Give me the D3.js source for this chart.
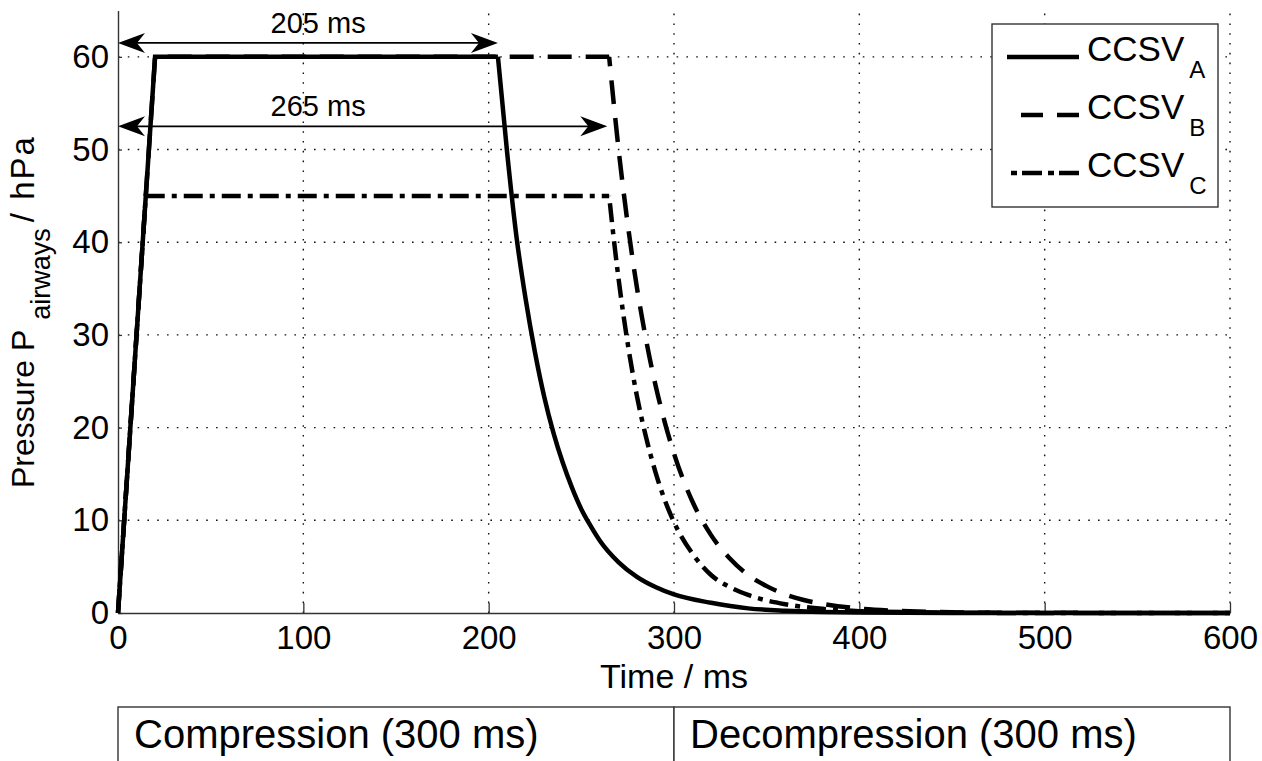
<!DOCTYPE html>
<html>
<head>
<meta charset="utf-8">
<script src="https://cdn.jsdelivr.net/npm/d3@7"></script>
<style>
body{margin:0;background:#fff;}
text{font-family:"Liberation Sans",Arial,Helvetica,sans-serif;fill:#000;}
</style>
</head>
<body>
<svg id="chart" width="1262" height="761"></svg>
<script>
// pressure curves, time in ms, pressure in hPa
// first three points = ramp + plateau, rest = release
var timeA  = [0, 20, 205, 210, 215, 220, 225, 230, 235, 240, 245, 250, 255, 260, 270, 280, 290, 300, 320, 340, 360, 380, 400, 450, 500, 600];
var pressA = [0, 60, 60, 49.6, 40.6, 33.8, 28.1, 23.3, 19.4, 16.2, 13.5, 11.2, 9.4, 7.8, 5.5, 3.9, 2.8, 2.0, 1.1, 0.5, 0.25, 0.12, 0.06, 0.01, 0, 0];
var timeB  = [0, 20, 265, 270, 275, 280, 285, 290, 295, 300, 310, 320, 330, 340, 350, 360, 370, 380, 400, 420, 450, 500, 600];
var pressB = [0, 60, 60, 50.2, 42.0, 35.1, 29.4, 24.6, 20.6, 17.2, 12.0, 8.4, 5.9, 4.1, 2.9, 2.0, 1.4, 1.0, 0.48, 0.24, 0.08, 0.02, 0];
var timeC  = [0, 15, 265, 268, 270, 275, 280, 285, 290, 295, 300, 310, 320, 330, 340, 350, 360, 380, 400, 450, 500, 600];
var pressC = [0, 45, 45, 39.5, 36.2, 29.1, 23.4, 18.9, 15.2, 12.2, 9.8, 6.4, 4.1, 2.8, 1.95, 1.35, 0.95, 0.45, 0.2, 0.04, 0, 0];

var seriesNames = ["CCSV", "CCSV", "CCSV"];
var seriesSubs  = ["A", "B", "C"];

var xTicks = [0, 100, 200, 300, 400, 500, 600];
var yTicks = [0, 10, 20, 30, 40, 50, 60];

// arrows: both start at t = 0
var arrowLabels = ["205 ms", "265 ms"];
var arrowEnds   = [205, 264];
var arrowLevels = [61.5, 52.5];

var phaseNames  = ["Compression (300 ms)", "Decompression (300 ms)"];
var phaseStarts = [0, 300];
var phaseEnds   = [300, 600];

var svg = d3.select("#chart");

var x = d3.scaleLinear().domain([0, 600]).range([118, 1230]);
var y = d3.scaleLinear().domain([0, 65]).range([613, 10.5]);

// grid
var grid = svg.append("g");
grid.selectAll(".gx").data(xTicks.slice(1)).enter().append("line")
  .attr("x1", function(d){ return x(d); }).attr("x2", function(d){ return x(d); })
  .attr("y1", y(0)).attr("y2", y(65))
  .attr("stroke", "#111").attr("stroke-width", 1.4).attr("stroke-dasharray", "1.6,8.2");
grid.selectAll(".gy").data(yTicks.slice(1)).enter().append("line")
  .attr("x1", x(0)).attr("x2", x(600))
  .attr("y1", function(d){ return y(d); }).attr("y2", function(d){ return y(d); })
  .attr("stroke", "#111").attr("stroke-width", 1.4).attr("stroke-dasharray", "1.6,8.2");

// axes
var xAxis = svg.append("g").attr("transform", "translate(0," + y(0) + ")")
  .call(d3.axisBottom(x).tickValues(xTicks).tickSizeInner(-10).tickSizeOuter(0).tickPadding(13));
var yAxis = svg.append("g").attr("transform", "translate(" + x(0) + ",0)")
  .call(d3.axisLeft(y).tickValues(yTicks).tickSizeInner(-4).tickSizeOuter(0).tickPadding(9));
[xAxis, yAxis].forEach(function(a){
  a.select(".domain").attr("stroke", "#333").attr("stroke-width", 1.4);
  a.selectAll(".tick line").attr("stroke", "#333").attr("stroke-width", 1.3);
  a.selectAll("text").style("font-size", "33px").attr("font-family", null).attr("fill", "#000");
});

// curves: ramp/plateau straight, release smoothed
var lin = d3.line().x(function(d){ return x(d[0]); }).y(function(d){ return y(d[1]); });
var smooth = d3.line().curve(d3.curveMonotoneX).x(function(d){ return x(d[0]); }).y(function(d){ return y(d[1]); });
var curves = [
  {t: timeC, p: pressC, dash: "19,7,5,7"},
  {t: timeB, p: pressB, dash: "24,14"},
  {t: timeA, p: pressA, dash: null}
];
var cg = svg.append("g");
curves.forEach(function(c){
  var pts = d3.zip(c.t, c.p);
  var p1 = cg.append("path").attr("d", lin(pts.slice(0, 3)))
    .attr("fill", "none").attr("stroke", "#000").attr("stroke-width", 4.5)
    .attr("stroke-dasharray", c.dash);
  var len = p1.node().getTotalLength();
  cg.append("path").attr("d", smooth(pts.slice(2)))
    .attr("fill", "none").attr("stroke", "#000").attr("stroke-width", 4.5)
    .attr("stroke-dasharray", c.dash).attr("stroke-dashoffset", c.dash ? -len : null);
});

// arrows
var head = "M0,0 L-27,-10 L-19,0 L-27,10 Z";
var arr = svg.append("g");
arrowEnds.forEach(function(end, i){
  var yy = y(arrowLevels[i]);
  arr.append("line").attr("x1", x(0) + 10).attr("x2", x(end) - 10)
    .attr("y1", yy).attr("y2", yy).attr("stroke", "#000").attr("stroke-width", 1.8);
  arr.append("path").attr("d", head).attr("transform", "translate(" + x(end) + "," + yy + ")");
  arr.append("path").attr("d", head).attr("transform", "translate(" + x(0) + "," + yy + ") scale(-1,1)");
  arr.append("text").attr("x", x(108)).attr("y", yy - 10).attr("text-anchor", "middle")
    .style("font-size", "29px").text(arrowLabels[i]);
});

// legend
var leg = svg.append("g");
leg.append("rect").attr("x", 992).attr("y", 24).attr("width", 226).attr("height", 183)
  .attr("fill", "#fff").attr("stroke", "#333").attr("stroke-width", 1.4);
var legDash = [null, "22,14", "20,5,6,6"];
seriesSubs.forEach(function(s, i){
  var ly = 57 + i * 58;
  leg.append("line").attr("x1", 1079).attr("x2", 1007).attr("y1", ly).attr("y2", ly)
    .attr("stroke", "#000").attr("stroke-width", 4.5).attr("stroke-dasharray", legDash[i]);
  var t = leg.append("text").attr("x", 1087).attr("y", ly + 4).style("font-size", "35px");
  t.append("tspan").text(seriesNames[i]);
  t.append("tspan").attr("dx", 5).attr("dy", 17).style("font-size", "24px").text(s);
});

// axis labels
svg.append("text").attr("x", x(300)).attr("y", 688).attr("text-anchor", "middle")
  .style("font-size", "34px").text("Time / ms");
var yl = svg.append("text").attr("transform", "translate(34,488) rotate(-90)")
  .style("font-size", "32px");
yl.append("tspan").text("Pressure P");
yl.append("tspan").attr("dx", 10).attr("dy", 16).style("font-size", "27px").text("airways");
yl.append("tspan").attr("dx", 6).attr("dy", -16).style("font-size", "33px").style("letter-spacing", "2px").text("/ hPa");

// phase boxes under the axis
var ph = svg.append("g");
phaseNames.forEach(function(n, i){
  ph.append("rect").attr("x", x(phaseStarts[i])).attr("y", 707)
    .attr("width", x(phaseEnds[i]) - x(phaseStarts[i])).attr("height", 80)
    .attr("fill", "#fff").attr("stroke", "#333").attr("stroke-width", 1.4);
  ph.append("text").attr("x", x(phaseStarts[i]) + 16).attr("y", 748)
    .style("font-size", "40px").text(n);
});
</script>
</body>
</html>
